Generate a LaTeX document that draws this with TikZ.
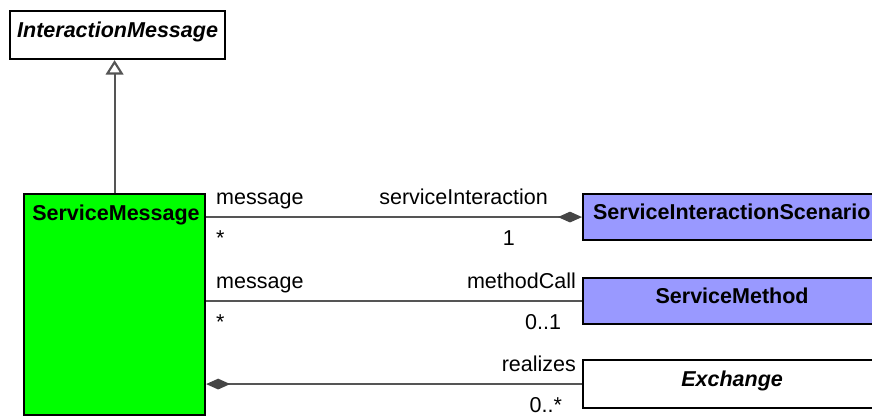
\documentclass[tikz,border=0pt]{standalone}
\usepackage{fontspec}
\setmainfont{Liberation Sans}
\usetikzlibrary{arrows.meta}
\definecolor{gcol}{HTML}{00FF00}
\definecolor{pcol}{HTML}{9999FF}
\definecolor{lcol}{HTML}{555555}
\definecolor{dcol}{HTML}{454545}
\newcommand{\clsfont}{\fontsize{15.3pt}{18pt}\selectfont\bfseries}
\newcommand{\rolefont}{\fontsize{15.3pt}{18pt}\selectfont}

\begin{document}
\begin{tikzpicture}[x=0.025cm, y=-0.025cm,
  cls/.style={draw=black, line width=1.5pt, rectangle, inner sep=0pt,
    font=\clsfont, text height=0.72em, text depth=0.42em, anchor=north west},
  assoc/.style={draw=lcol, line width=1.5pt},
  role/.style={font=\rolefont, inner sep=0pt},
  comp/.style={-{Diamond[length=0.6cm, width=0.27cm, fill=dcol, color=dcol]}},
  gen/.style={-{Triangle[open, length=0.36cm, width=0.44cm, fill=white, color=lcol]}}]
\useasboundingbox (0,0) rectangle (872,416);
% classes
\node[cls, fill=white, minimum width=5.375cm, minimum height=1.2cm] (im) at (9,10)
  {\itshape InteractionMessage};
\node[cls, fill=gcol, minimum width=4.525cm, minimum height=5.525cm,
  label={[font=\clsfont, inner sep=0pt, anchor=north west, xshift=6.4pt, yshift=-8.2pt]north west:ServiceMessage}]
  (sm) at (23,193) {};
\node[cls, fill=pcol, minimum height=1.15cm, inner xsep=0.25cm, text width=6.95cm, align=left]
  (sis) at (582,193) {ServiceInteractionScenario};
\node[cls, fill=pcol, minimum width=7.45cm, minimum height=1.15cm] (meth) at (582,277)
  {ServiceMethod};
\node[cls, fill=white, minimum width=7.45cm, minimum height=1.2cm] (exch) at (582,359)
  {\itshape Exchange};
% generalization
\draw[assoc, gen] (sm.north) -- (sm.north |- im.south);
% associations
\draw[assoc, comp] (sm.east |- sis.west) -- (sis.west)
  node[role, pos=0, anchor=base west, xshift=6.4pt, yshift=9.2pt] {message}
  node[role, pos=0, anchor=base west, xshift=6.4pt, yshift=-19.9pt] {*}
  node[role, pos=1, anchor=base east, xshift=-23.5pt, yshift=9.2pt] {serviceInteraction}
  node[role, pos=1, anchor=base east, xshift=-47pt, yshift=-19.9pt] {1};
\draw[assoc] (sm.east |- meth.west) -- (meth.west)
  node[role, pos=0, anchor=base west, xshift=6.4pt, yshift=9.2pt] {message}
  node[role, pos=0, anchor=base west, xshift=6.4pt, yshift=-19.9pt] {*}
  node[role, pos=1, anchor=base east, xshift=-3.6pt, yshift=9.2pt] {methodCall}
  node[role, pos=1, anchor=base east, xshift=-14.2pt, yshift=-19.9pt] {0..1};
\draw[assoc, comp] (exch.west) -- (exch.west -| sm.east)
  node[role, pos=0, anchor=base east, xshift=-3.6pt, yshift=9.2pt] {realizes}
  node[role, pos=0, anchor=base east, xshift=-13.5pt, yshift=-19.9pt] {0..*};
\end{tikzpicture}
\end{document}
